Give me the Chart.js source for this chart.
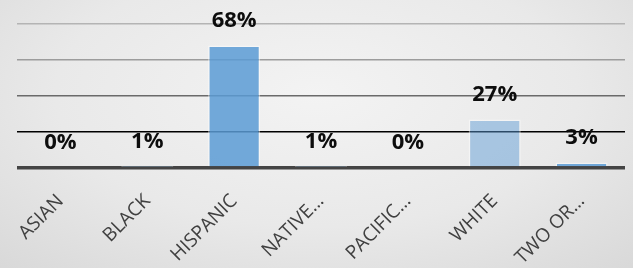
<!DOCTYPE html>
<html>
<head>
<meta charset="utf-8">
<script src="https://cdn.jsdelivr.net/npm/chart.js@4"></script>
<style>
  html, body { margin: 0; padding: 0; }
  body {
    width: 633px; height: 268px; overflow: hidden;
    background: radial-gradient(ellipse 75% 90% at 50% 35%, #f3f3f3 0%, #e9e9e9 55%, #d8d8d8 100%);
  }
  #wrap { position: relative; width: 625px; height: 268px; }
</style>
</head>
<body>
<div id="wrap"><canvas id="chart"></canvas></div>
<script>
const categories = ['ASIAN', 'BLACK', 'HISPANIC', 'NATIVE…', 'PACIFIC…', 'WHITE', 'TWO OR…'];
const values = [0, 0.6, 68, 0.6, 0, 27, 3];
const valueLabels = ['0%', '1%', '68%', '1%', '0%', '27%', '3%'];
const yTicks = [0, 20, 40, 60, 80];

const barFill = ['rgba(91,155,213,0.85)', 'rgba(91,155,213,0.85)', 'rgba(91,155,213,0.85)', 'rgba(91,155,213,0.85)',
  'rgba(91,155,213,0.85)', 'rgba(91,155,213,0.48)', 'rgba(91,155,213,0.85)'];
const gridColors = { 0: '#444444', 20: '#000000', 40: '#6a6a6a', 60: '#9c9c9c', 80: '#b4b4b4' };

// labels above each bar, placed from the bar element positions
const valueLabelPlugin = {
  id: 'valueLabels',
  afterDatasetsDraw(chart) {
    const ctx = chart.ctx;
    const meta = chart.getDatasetMeta(0);
    ctx.save();
    ctx.font = 'bold 22px "Open Sans", sans-serif';
    ctx.fillStyle = '#0d0d0d';
    ctx.textAlign = 'center';
    ctx.textBaseline = 'middle';
    meta.data.forEach((bar, i) => {
      ctx.fillText(valueLabels[i], bar.x, bar.y - 25);
    });
    ctx.restore();
  }
};

new Chart(document.getElementById('chart'), {
  type: 'bar',
  data: {
    labels: categories,
    datasets: [{
      data: values,
      backgroundColor: barFill,
      borderColor: 'rgba(255,255,255,0.45)',
      borderWidth: 1.5,
      barPercentage: 0.6,
      categoryPercentage: 1
    }]
  },
  options: {
    responsive: true,
    maintainAspectRatio: false,
    animation: false,
    layout: { padding: { left: 17, right: 0, top: 24, bottom: 0 } },
    plugins: { legend: { display: false }, tooltip: { enabled: false } },
    scales: {
      x: {
        afterFit: scale => { scale.height = 100; },
        grid: { display: false },
        border: { display: false },
        ticks: {
          color: '#404040',
          font: { family: '"Open Sans", sans-serif', size: 19 },
          minRotation: 45,
          maxRotation: 45,
          padding: 14,
          autoSkip: false
        }
      },
      y: {
        min: 0,
        max: 80,
        afterFit: scale => { scale.width = 0; },
        afterBuildTicks: scale => { scale.ticks = yTicks.map(v => ({ value: v })); },
        ticks: { display: false },
        border: { display: false },
        grid: {
          drawTicks: false,
          color: c => gridColors[c.tick.value],
          lineWidth: c => (c.tick.value === 0 ? 3.5 : 1.5)
        }
      }
    }
  },
  plugins: [valueLabelPlugin]
});
</script>
</body>
</html>
